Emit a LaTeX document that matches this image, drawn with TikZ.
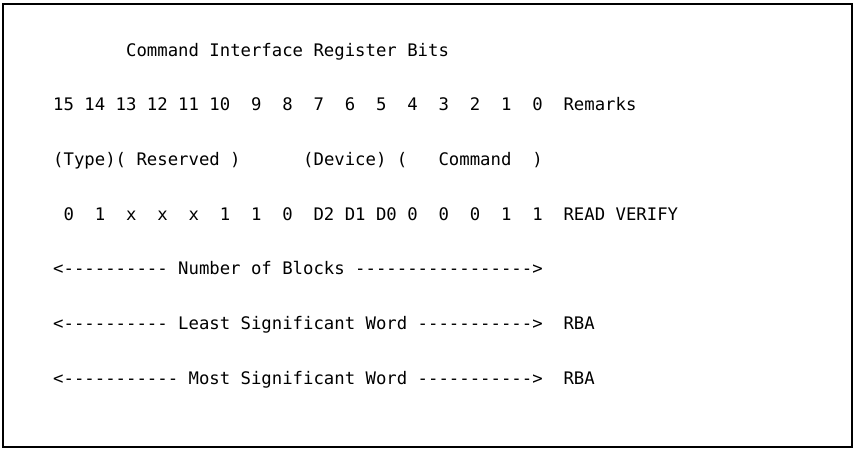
\documentclass[tikz,border=0pt]{standalone}
\usepackage{fontspec}
\setmonofont{DejaVu Sans Mono}
\begin{document}
\begin{tikzpicture}[x=1pt,y=-1pt,
  txt/.style={anchor=base west,inner sep=0pt,font=\ttfamily\fontsize{17.3}{20}\selectfont},
  frame/.style={draw=black,line width=1.5pt}]
\useasboundingbox (0,0) rectangle (856,450);
\draw[frame] (3,4) rectangle (852,447);
\node[txt] (title) at (53,56) {~~~~~~~Command~Interface~Register~Bits};
\node[txt] (bits) at (53,110.7) {15~14~13~12~11~10~~9~~8~~7~~6~~5~~4~~3~~2~~1~~0~~Remarks};
\node[txt] (fields) at (53,165.3) {(Type)(~Reserved~)~~~~~~(Device)~(~~~Command~~)};
\node[txt] (values) at (53,220) {~0~~1~~x~~x~~x~~1~~1~~0~~D2~D1~D0~0~~0~~0~~1~~1~~READ~VERIFY};
\node[txt] (blocks) at (53,274.7) {<----------~Number~of~Blocks~----------------->};
\node[txt] (lsw) at (53,329.3) {<----------~Least~Significant~Word~----------->~~RBA};
\node[txt] (msw) at (53,384) {<-----------~Most~Significant~Word~----------->~~RBA};
\end{tikzpicture}
\end{document}
